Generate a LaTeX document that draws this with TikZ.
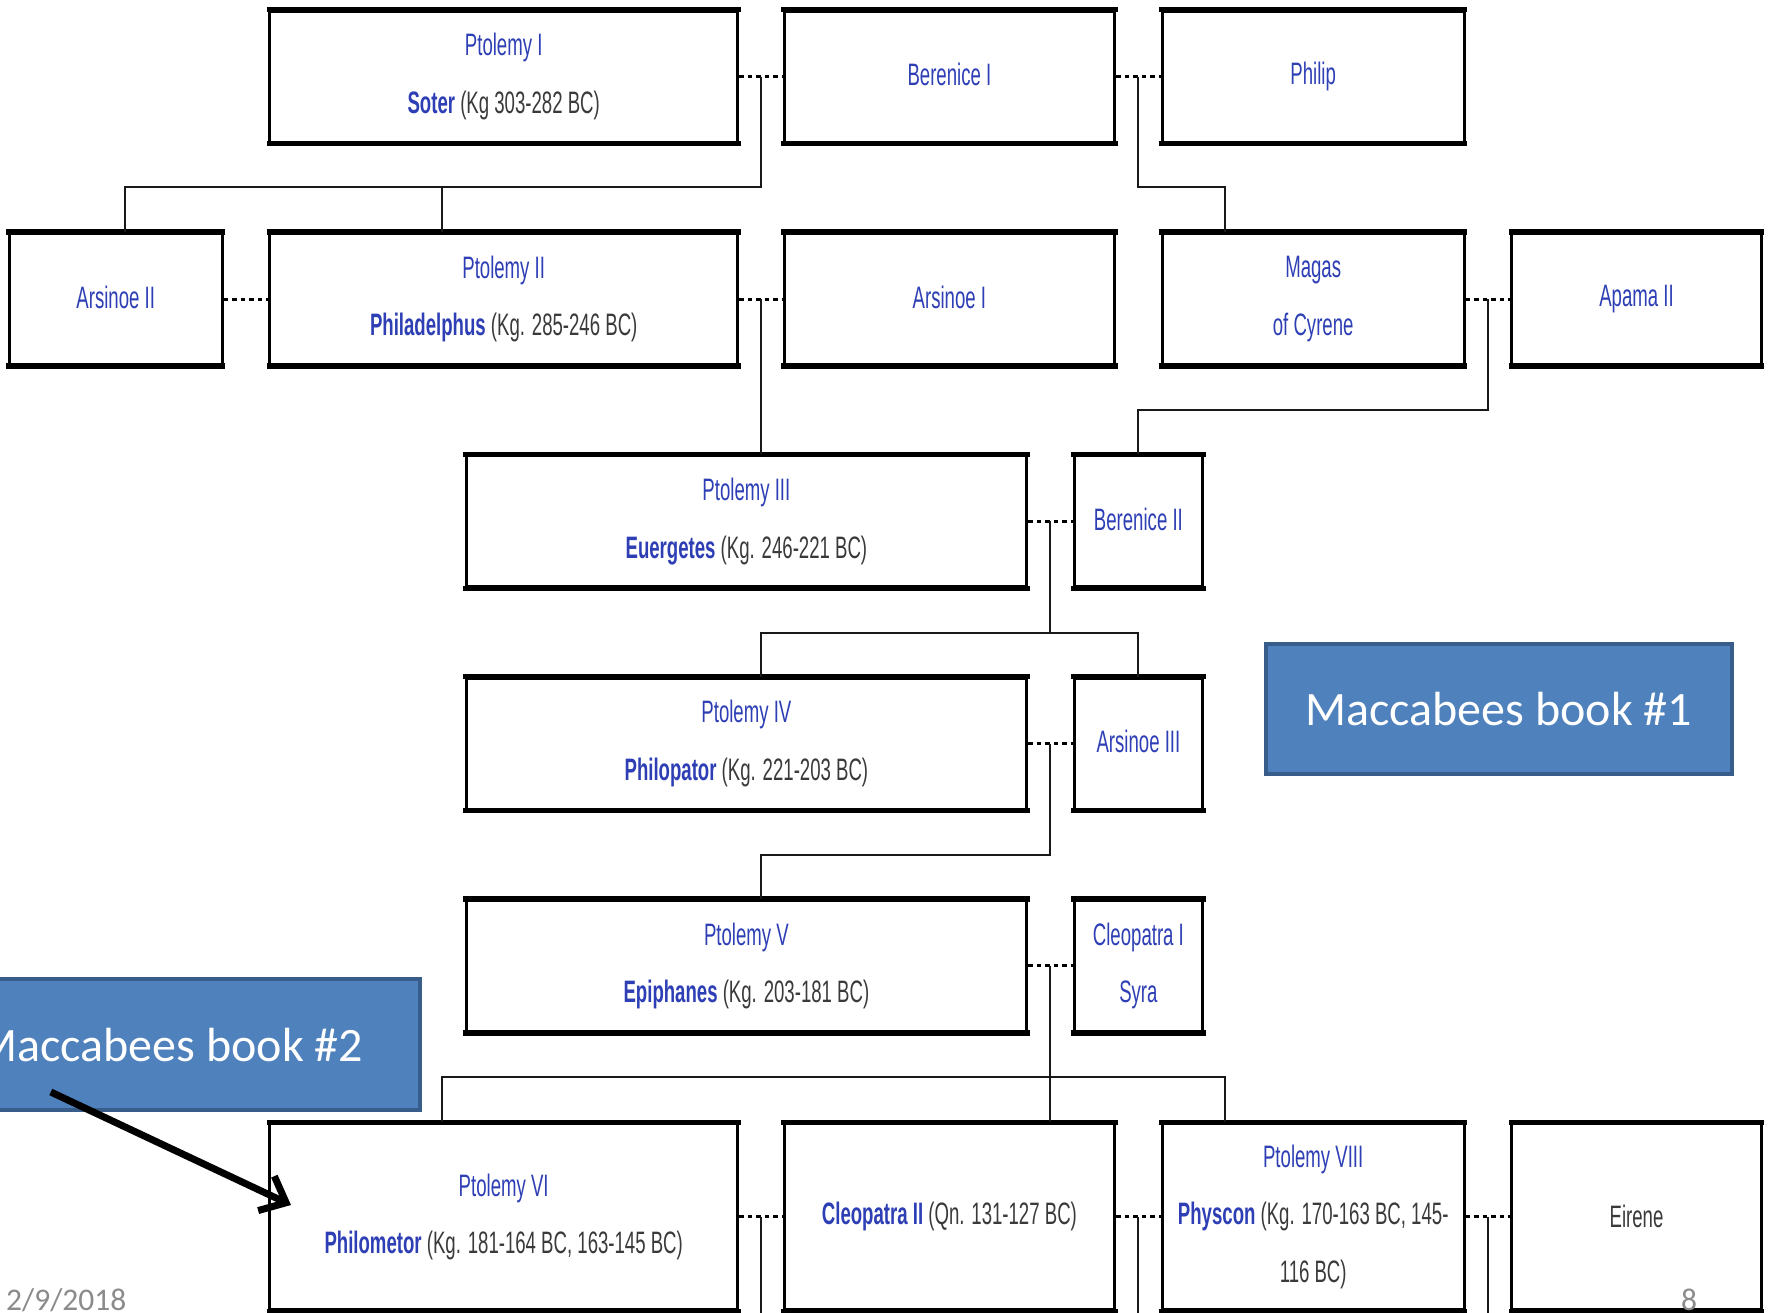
\documentclass[tikz,border=0pt]{standalone}
\usepackage{fontspec}
\usetikzlibrary{calc,arrows.meta}
\newfontfamily\treefont[FakeStretch=0.6]{Liberation Sans}
\newfontfamily\calib{Carlito}
\definecolor{lnk}{HTML}{2E3FB5}
\definecolor{plaincol}{HTML}{3A3A3A}
\definecolor{mblue}{HTML}{4F81BD}
\definecolor{mborder}{HTML}{385D8A}
\definecolor{footcol}{HTML}{8B8B8B}
\newcommand\plaintxt[1]{\textcolor{plaincol}{#1}}
\newcommand\upone[1]{\raisebox{4pt}{#1}}
\begin{document}
\begin{tikzpicture}[x=1pt,y=-1pt,
  fam/.style={draw, rectangle, line width=3pt, inner sep=0pt, align=center,
    text=lnk, font=\treefont\fontsize{31}{57.5}\selectfont, minimum height=131pt},
  wideb/.style={minimum width=468.2pt},
  midb/.style={minimum width=330.6pt},
  dmb/.style={minimum width=302.4pt},
  endb/.style={minimum width=249.3pt},
  genb/.style={minimum width=560.7pt},
  narb/.style={minimum width=128.7pt},
  wed/.style={line width=3pt, dash pattern=on 4.5pt off 4pt},
  kin/.style={line width=2pt, black!90},
  mac/.style={draw=mborder, fill=mblue, line width=4pt, text=white, inner sep=0pt,
    font=\calib\fontsize{48}{58}\selectfont},
  pointer/.style={line width=7pt, -{Straight Barb[length=22pt,width=38pt]}},
  foot/.style={text=footcol, inner sep=0pt, font=\calib\fontsize{31.5}{36}\selectfont}
]
\useasboundingbox (0,0) rectangle (1769,1312);
\clip (0,0) rectangle (1769,1312);
\fill[white] (0,0) rectangle (1769,1312);

% row 1
\node[fam,wideb] (p1) at (503.7,76.7) {Ptolemy I\\\textbf{Soter} \plaintxt{(Kg 303-282 BC)}};
\node[fam,midb] (b1) at (949.4,76.7) {\upone{Berenice I}};
\node[fam,dmb] (ph) at (1313.2,76.7) {\upone{Philip}};
% row 2
\node[fam,minimum width=213.3pt] (a2) at (115.7,299) {\upone{Arsinoe II}};
\node[fam,wideb] (p2) at (503.7,299) {Ptolemy II\\\textbf{Philadelphus} \plaintxt{(Kg. 285-246 BC)}};
\node[fam,midb] (a1) at (949.4,299) {\upone{Arsinoe I}};
\node[fam,dmb] (mg) at (1313.2,299) {Magas\\of Cyrene};
\node[fam,endb] (ap) at (1636.5,299) {\upone{Apama II}};
% row 3
\node[fam,genb] (p3) at (746.4,521.3) {Ptolemy III\\\textbf{Euergetes} \plaintxt{(Kg. 246-221 BC)}};
\node[fam,narb] (b2) at (1138.4,521.3) {\upone{Berenice II}};
% row 4
\node[fam,genb] (p4) at (746.4,743.6) {Ptolemy IV\\\textbf{Philopator} \plaintxt{(Kg. 221-203 BC)}};
\node[fam,narb] (a3) at (1138.4,743.6) {\upone{Arsinoe III}};
% row 5
\node[fam,genb] (p5) at (746.4,965.9) {Ptolemy V\\\textbf{Epiphanes} \plaintxt{(Kg. 203-181 BC)}};
\node[fam,narb] (c1) at (1138.4,965.9) {Cleopatra I\\Syra};
% row 6
\node[fam,wideb,minimum height=186pt] (p6) at (503.7,1216.9) {Ptolemy VI\\\textbf{Philometor} \plaintxt{(Kg. 181-164 BC, 163-145 BC)}};
\node[fam,midb,minimum height=186pt] (c2) at (949.4,1216.9) {\textbf{Cleopatra II} \plaintxt{(Qn. 131-127 BC)}};
\node[fam,dmb,minimum height=186pt] (p8) at (1313.2,1216.9) {Ptolemy VIII\\\textbf{Physcon} \plaintxt{(Kg. 170-163 BC, 145-}\\\plaintxt{116 BC)}};
\node[fam,endb,minimum height=186pt] (ei) at (1636.5,1216.9) {\plaintxt{Eirene}};

\foreach \n in {p1,b1,ph,a2,p2,a1,mg,ap,p3,b2,p4,a3,p5,c1,p6,c2,p8,ei}{
  \draw[line width=5.5pt, shorten <=-1.5pt, shorten >=-1.5pt] (\n.north west) -- (\n.north east);
  \draw[line width=5.5pt, shorten <=-1.5pt, shorten >=-1.5pt] (\n.south west) -- (\n.south east);
}

% marriages
\draw[wed] (p1.east) -- (b1.west);
\draw[wed] (b1.east) -- (ph.west);
\draw[wed] (a2.east) -- (p2.west);
\draw[wed] (p2.east) -- (a1.west);
\draw[wed] (mg.east) -- (ap.west);
\draw[wed] (p3.east) -- (b2.west);
\draw[wed] (p4.east) -- (a3.west);
\draw[wed] (p5.east) -- (c1.west);
\draw[wed] (p6.east) -- (c2.west);
\draw[wed] (c2.east) -- (p8.west);
\draw[wed] (p8.east) -- (ei.west);

\coordinate (m1) at ($(p1.east)!0.5!(b1.west)$);
\coordinate (m2) at ($(b1.east)!0.5!(ph.west)$);
\coordinate (m3) at ($(p2.east)!0.5!(a1.west)$);
\coordinate (m4) at ($(mg.east)!0.5!(ap.west)$);
\coordinate (m5) at ($(p3.east)!0.5!(b2.west)$);
\coordinate (m6) at ($(p4.east)!0.5!(a3.west)$);
\coordinate (m7) at ($(p5.east)!0.5!(c1.west)$);
\coordinate (m8) at ($(p6.east)!0.5!(c2.west)$);
\coordinate (m9) at ($(c2.east)!0.5!(p8.west)$);
\coordinate (m10) at ($(p8.east)!0.5!(ei.west)$);

% child attach points
\coordinate (a2t) at (125.2,0 |- a2.north);
\coordinate (p2t) at (442.3,0 |- p2.north);
\coordinate (mgt) at (1225.2,0 |- mg.north);
\coordinate (p3t) at (m3 |- p3.north);
\coordinate (b2t) at (b2.north);
\coordinate (p4t) at (m3 |- p4.north);
\coordinate (a3t) at (a3.north);
\coordinate (p5t) at (m3 |- p5.north);
\coordinate (p6t) at (442.3,0 |- p6.north);
\coordinate (c2t) at (m5 |- c2.north);
\coordinate (p8t) at (1225.2,0 |- p8.north);

% descent lines
\draw[kin] (m1) |- (a2t |- 0,187.3) -- (a2t);
\draw[kin] (p2t |- 0,187.3) -- (p2t);
\draw[kin] (m2) |- (mgt |- 0,187.3) -- (mgt);
\draw[kin] (m3) -- (p3t);
\draw[kin] (m4) |- (b2t |- 0,409.5) -- (b2t);
\draw[kin] (m5) -- (m5 |- 0,632.9);
\draw[kin] (p4t) -- (p4t |- 0,632.9) -- (a3t |- 0,632.9) -- (a3t);
\draw[kin] (m6) |- (p5t |- 0,855.2) -- (p5t);
\draw[kin] (m7) -- (c2t);
\draw[kin] (p6t) -- (p6t |- 0,1077.4) -- (p8t |- 0,1077.4) -- (p8t);
\draw[kin] (m8) -- (m8 |- 0,1320);
\draw[kin] (m9) -- (m9 |- 0,1320);
\draw[kin] (m10) -- (m10 |- 0,1320);

% Maccabees labels
\node[mac, minimum width=466pt, minimum height=129.8pt] (mk1) at (1498.8,709.1) {Maccabees book \#1};
\node[mac, minimum width=500pt, minimum height=130.8pt] (mk2) at (169.7,1044.7) {Maccabees book \#2};
\coordinate (tail) at (50.8,1092);
\coordinate (tip) at (291,1205);
\draw[pointer] (tail) -- (tip);

% footer
\node[foot, anchor=base west] (date) at (6,1310) {2/9/2018};
\node[foot, anchor=base west] (page) at (1681,1310) {8};
\end{tikzpicture}
\end{document}
